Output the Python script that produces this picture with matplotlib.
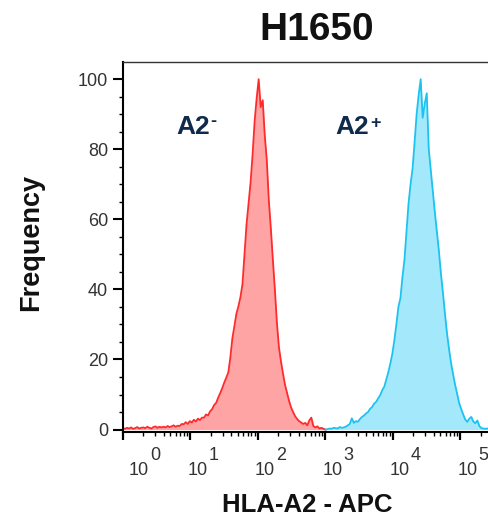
import numpy as np
import matplotlib
matplotlib.use("Agg")
import matplotlib.pyplot as plt
from matplotlib import transforms
from matplotlib.ticker import FixedLocator, LogLocator, MultipleLocator, NullFormatter

plt.rcParams['font.family'] = ['Liberation Sans', 'DejaVu Sans']

# ---- chart content -------------------------------------------------------
title = "H1650"
x_label = "HLA-A2 - APC"
y_label = "Frequency"
decades = [0, 1, 2, 3, 4, 5]          # x ticks at 10**d
y_ticks = [0, 20, 40, 60, 80, 100]

# histogram channels are spaced evenly in log10(intensity)
bin_step = 0.03

# HLA-A2 negative population (mode-normalised counts)
neg_start = 0.0
neg_counts = [
    0.4, 0.2, 0.5, 0.3, 0.6, 0.2, 0.4, 0.7, 0.3, 0.5,
    0.6, 0.4, 0.8, 0.5, 0.3, 0.7, 0.9, 0.5, 0.8, 0.6,
    0.8, 0.6, 1.0, 0.7, 0.9, 1.2, 0.8, 1.1, 1.0, 1.6,
    1.5, 2.1, 1.6, 2.4, 2.0, 2.8, 2.3, 3.1, 2.7, 3.4,
    3.4, 4.3, 4.0, 5.2, 5.8, 7.0, 7.6, 9.1, 10.4, 11.8,
    13.4, 14.8, 16.3, 20.5, 26.0, 29.5, 33.0, 35.2, 37.8, 41.5,
    50.0, 58.5, 64.5, 70.5, 78.5, 88.0, 94.5, 100.0, 92.0, 94.0,
    84.0, 77.0, 65.5, 57.5, 48.5, 40.0, 30.5, 23.5, 19.5, 16.0,
    12.8, 10.5, 8.2, 6.3, 5.0, 3.8, 3.0, 2.4, 2.0, 1.6,
    1.9, 1.2, 2.6, 3.4, 1.0, 0.6, 0.9, 0.3, 0.5, 0.2,
    0.0,
]

# HLA-A2 positive population (mode-normalised counts)
pos_start = 3.0
pos_counts = [
    0.0, 0.1, 0.3, 0.2, 0.5, 0.4, 0.3, 0.7, 0.5, 0.6,
    0.8, 1.2, 1.6, 3.2, 1.9, 2.4, 2.2, 3.0, 3.6, 4.0,
    4.6, 5.0, 5.9, 6.4, 7.4, 7.9, 8.9, 9.8, 11.2, 12.2,
    14.2, 16.3, 18.8, 21.6, 25.5, 30.0, 35.0, 37.5, 43.5, 48.5,
    56.5, 64.5, 70.0, 74.5, 82.0, 90.0, 95.5, 100.0, 89.0, 93.0,
    96.0, 80.0, 74.0, 68.0, 62.0, 56.5, 51.0, 44.5, 39.0, 33.0,
    27.5, 23.0, 19.0, 15.8, 12.8, 10.2, 7.6, 5.9, 4.3, 2.9,
    2.2, 3.1, 3.6, 2.3, 1.8, 2.6, 1.0, 0.4, 0.3, 0.2,
    0.3, 0.1, 0.2, 0.1,
]

neg_name, neg_sign = "A2", "-"
pos_name, pos_sign = "A2", "+"

# ---- styling ---------------------------------------------------------------
NEG_LINE, NEG_FILL = "#ff2a2a", "#ffa4a4"
POS_LINE, POS_FILL = "#1cc3f0", "#a3e8fb"
TICK_TEXT = "#333333"
NAVY = "#102a4c"

W, H = 489, 518
fig = plt.figure(figsize=(W / 100, H / 100), dpi=100)
ax_left, ax_top, ax_bottom = 123, 62, 432
decade_px = 67.5
ax_w = decade_px * 5.5
ax = fig.add_axes([ax_left / W, (H - ax_bottom) / H, ax_w / W, (ax_bottom - ax_top) / H])
ax.set_xscale("log")
ax.set_xlim(1, 10 ** 5.5)
ax.set_ylim(-0.7, 104.9)


def channels(start, counts):
    return 10 ** (start + bin_step * np.arange(len(counts)))


x_neg = channels(neg_start, neg_counts)
x_pos = channels(pos_start, pos_counts)
ax.fill_between(x_neg, 0, neg_counts, color=NEG_FILL, lw=0, zorder=1)
ax.plot(x_neg, neg_counts, color=NEG_LINE, lw=1.3, zorder=2)
ax.fill_between(x_pos, 0, pos_counts, color=POS_FILL, lw=0, zorder=1)
ax.plot(x_pos, pos_counts, color=POS_LINE, lw=1.3, zorder=2)

# spines
for side in ("left", "bottom"):
    ax.spines[side].set_linewidth(1.5)
    ax.spines[side].set_color("black")
ax.spines["top"].set_linewidth(1.0)
ax.spines["top"].set_color("#333333")
ax.spines["right"].set_visible(False)

# x axis: decade ticks, log minor ticks, custom "10" + exponent labels
ax.xaxis.set_major_locator(FixedLocator([10 ** d for d in decades]))
ax.xaxis.set_minor_locator(LogLocator(base=10, subs=np.arange(2, 10), numticks=20))
ax.xaxis.set_major_formatter(NullFormatter())
ax.xaxis.set_minor_formatter(NullFormatter())
ax.tick_params(axis="x", which="major", direction="out", length=5.8, width=1.6, color="black")
ax.tick_params(axis="x", which="minor", direction="out", length=3.0, width=1.0, color="black")

base_y = (ax_bottom - 475) / (ax_bottom - ax_top)
exp_y = (ax_bottom - 460) / (ax_bottom - ax_top)
for d in decades:
    dx = 6 if d == 0 else -3
    tr_base = transforms.offset_copy(ax.get_xaxis_transform(), fig=fig, x=dx, y=0, units="dots")
    tr_exp = transforms.offset_copy(ax.get_xaxis_transform(), fig=fig, x=dx + 21, y=0, units="dots")
    ax.text(10 ** d, base_y, "10", transform=tr_base, ha="left", va="baseline",
            fontsize=13, color=TICK_TEXT, clip_on=False)
    ax.text(10 ** d, exp_y, str(d), transform=tr_exp, ha="left", va="baseline",
            fontsize=13, color=TICK_TEXT, clip_on=False)

# y axis
ax.yaxis.set_major_locator(FixedLocator(y_ticks))
ax.yaxis.set_minor_locator(MultipleLocator(5))
ax.set_yticklabels([str(v) for v in y_ticks])
ax.tick_params(axis="y", which="major", direction="out", length=7.2, width=1.5,
               pad=3.6, labelsize=13, labelcolor=TICK_TEXT, color="black")
ax.tick_params(axis="y", which="minor", direction="out", length=3.0, width=1.0, color="black")

# population labels with superscript sign
for name, sign, x, y, dy in ((neg_name, neg_sign, 6.1, 84.3, 1.5),
                             (pos_name, pos_sign, 1420, 84.3, 0.0)):
    t = ax.text(x, y, name, fontsize=19, fontweight="bold", color=NAVY,
                ha="left", va="baseline")
    ax.annotate(sign, xy=(1, 1), xycoords=t, xytext=(0.5, dy), textcoords="offset points",
                ha="left", va="top", fontsize=13, fontweight="bold", color=NAVY)

# axis titles and chart title
ax.set_xlabel(x_label, fontsize=18.5, fontweight="bold", color="#111111")
ax.xaxis.set_label_coords((307 - ax_left) / ax_w, (ax_bottom - 511.7) / (ax_bottom - ax_top))
ax.xaxis.label.set_va("baseline")
ax.set_ylabel(y_label, fontsize=19.5, fontweight="bold", color="#111111")
ax.yaxis.set_label_coords((38 - ax_left) / ax_w, (ax_bottom - 242.5) / (ax_bottom - ax_top))
ax.yaxis.label.set_va("baseline")

fig.text(317 / W, 1 - 40 / H, title, ha="center", va="baseline",
         fontsize=28, fontweight="bold", color="#111111")

fig.savefig("out.png", dpi=100)
